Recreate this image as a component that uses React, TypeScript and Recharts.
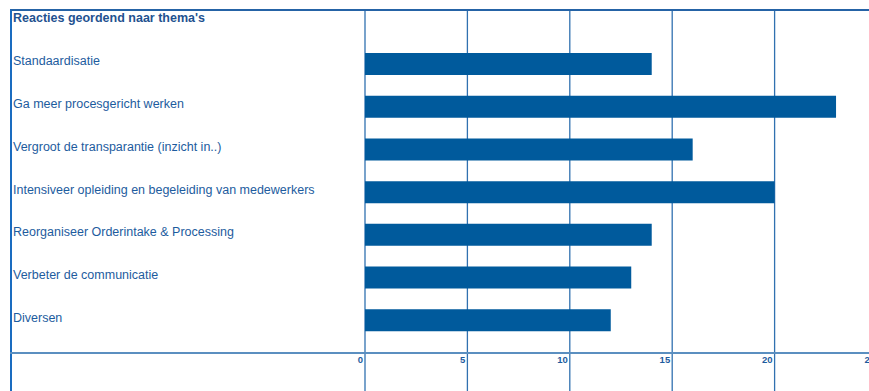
import React from 'react';
import { BarChart, Bar, XAxis, YAxis, CartesianGrid } from 'recharts';

const title = "Reacties geordend naar thema's";
const categories = [
  'Standaardisatie',
  'Ga meer procesgericht werken',
  'Vergroot de transparantie (inzicht in..)',
  'Intensiveer opleiding en begeleiding van medewerkers',
  'Reorganiseer Orderintake & Processing',
  'Verbeter de communicatie',
  'Diversen',
];
const counts = [14, 23, 16, 20, 14, 13, 12];
const xTicks = [0, 5, 10, 15, 20, 25];

const data = categories.map((name, i) => ({ name, value: counts[i] }));

const FONT = '"Liberation Sans", Arial, sans-serif';
const LABEL_COLOR = '#1d5c9e';
const GRID_COLOR = '#3171b0';
const BAR_COLOR = '#005a9c';

const YTick = (props: any) => {
  const { x, y, payload } = props;
  return (
    <text x={x - 352} y={y + 1} textAnchor="start" fontSize={12.5} fill={LABEL_COLOR} fontFamily={FONT}>
      {payload.value}
    </text>
  );
};

const XTick = (props: any) => {
  const { x, y, payload } = props;
  return (
    <g>
      <line x1={x} y1={y} x2={x} y2={y + 40} stroke={GRID_COLOR} strokeWidth={1.3} />
      <text x={x - 2} y={y + 11} textAnchor="end" fontSize={9.5} fontWeight="bold" fill={LABEL_COLOR} fontFamily={FONT}>
        {payload.value}
      </text>
    </g>
  );
};

export default function App() {
  return (
    <div style={{ position: 'absolute', left: 0, top: 0, width: 869, height: 391, overflow: 'hidden', background: '#fff', fontFamily: FONT }}>
      <BarChart
        width={878}
        height={391}
        data={data}
        layout="vertical"
        margin={{ top: 10, right: 1, bottom: 0, left: 10 }}
        barSize={22}
      >
        <CartesianGrid horizontal={false} vertical={true} stroke={GRID_COLOR} strokeWidth={1.3} />
        <XAxis
          type="number"
          domain={[0, 25]}
          ticks={xTicks}
          height={39}
          axisLine={false}
          tickLine={false}
          tickSize={0}
          tickMargin={0}
          tick={<XTick />}
          interval={0}
        />
        <YAxis
          type="category"
          dataKey="name"
          width={355}
          axisLine={false}
          tickLine={false}
          tickSize={0}
          tickMargin={0}
          tick={<YTick />}
          interval={0}
          padding={{ top: 33, bottom: 10 }}
        />
        <Bar dataKey="value" fill={BAR_COLOR} isAnimationActive={false} />
      </BarChart>
      <div style={{ position: 'absolute', left: 10, top: 9, width: 870, height: 400, borderLeft: '2px solid #1a6cc0', borderTop: '2px solid #2563a6', boxSizing: 'border-box' }} />
      <div style={{ position: 'absolute', left: 10, top: 352, width: 870, height: 2, background: '#5b8fc0' }} />
      <div style={{ position: 'absolute', left: 13, top: 11, fontSize: 12.5, fontWeight: 'bold', color: '#1f5290', whiteSpace: 'nowrap' }}>{title}</div>
    </div>
  );
}
